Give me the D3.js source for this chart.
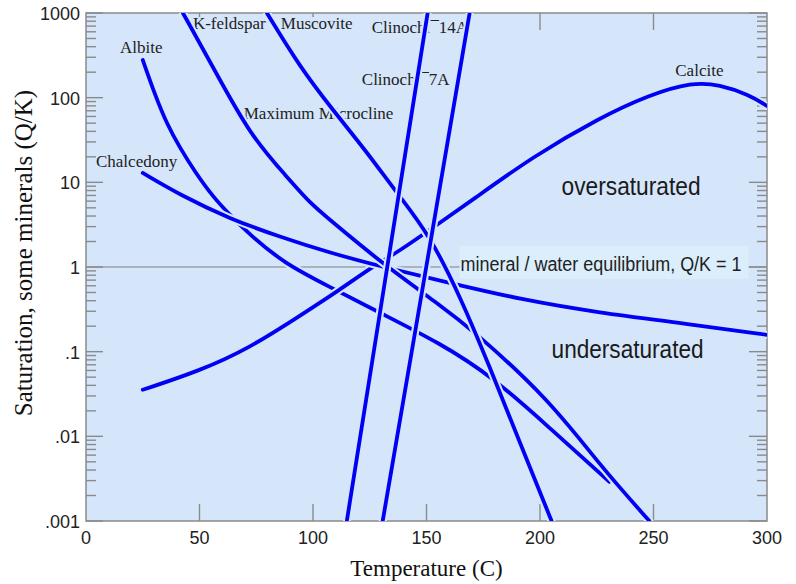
<!DOCTYPE html>
<html><head><meta charset="utf-8">
<script src="https://cdn.jsdelivr.net/npm/d3@7"></script>
<style>body{margin:0;background:#fff} svg{display:block}</style>
</head><body>
<svg id="chart" width="796" height="584"></svg>
<script>
// ---- data (temperature in C, saturation Q/K) ----
const xTicks = [0, 50, 100, 150, 200, 250, 300];
const yTicks = [1000, 100, 10, 1, 0.1, 0.01, 0.001];
const yTickLabels = ["1000", "100", "10", "1", ".1", ".01", ".001"];

const albite = [[25,279],[30.4,108],[35.6,49],[41.4,25.5],[48,13.3],[56.3,6.55],[63.4,4.13],[72.2,2.4],[87.6,1.09],[107.4,0.583],[129.4,0.288],[155.8,0.127],[179.1,0.0505],[204.2,0.0126],[230.6,0.0029]];
const calcite = [[25,0.0355],[50.2,0.0594],[72.2,0.111],[94.2,0.265],[111.8,0.537],[125.9,1.0],[138.2,1.55],[152.7,2.9],[170.3,6.21],[196.7,20],[226.2,57.7],[248.2,108],[267.1,152],[279,143],[292.2,108],[300,79.8]];
const chalcedony = [[25,12.9],[41.4,7.11],[63.4,3.7],[85.4,2.27],[107.4,1.47],[130.7,1.0],[160.2,0.65],[192.3,0.409],[226.2,0.288],[261.4,0.219],[300,0.158]];
const kfeldspar = [[42.7,1000],[55.9,231],[72.2,36.3],[88.5,11.6],[98.6,5.71],[107.4,3.61],[130.7,1.09],[155.8,0.357],[170.3,0.181],[204.2,0.027],[226.2,0.0046],[248.2,0.001]];
const muscovite = [[79.7,1000],[94.2,231],[108.7,71.6],[123.7,22.9],[136.9,7.5],[151.4,2.4],[165.5,0.409],[177.8,0.0664],[191,0.00863],[205.1,0.001]];
const clinochl7A = [[114.9,0.001],[132.7,1],[150.5,1000]];
const clinochl14A = [[130.7,0.001],[149.9,1],[169,1000]];

const seriesNames = ["Albite","Calcite","Chalcedony","K-feldspar","Muscovite","Clinochl¯7A","Clinochl¯14A"];
const seriesData = [albite, calcite, chalcedony, kfeldspar, muscovite, clinochl7A, clinochl14A];

// curve labels: [text, T, Q] (anchor = left/baseline)
const curveLabels = [
  ["Albite", 15.0, 337],
  ["K-feldspar", 47.1, 647],
  ["Muscovite", 85.8, 647],
  ["Clinochl¯14A", 125.9, 581],
  ["Clinochl¯7A", 121.5, 141],
  ["Maximum Microcline", 69.5, 56.1],
  ["Chalcedony", 4.4, 15.2],
  ["Calcite", 259.6, 180]
];
const regionLabels = [["oversaturated", 209.5, 7.11, 139], ["undersaturated", 205.1, 0.0847, 152]];
const equilLabel = ["mineral / water equilibrium, Q/K = 1", 165, 0.90, 281];

// ---- layout ----
const L = 86, R = 767, T = 13, B = 521;
const bg = "#d5e6fb";
const axisCol = "#8a8a8a";
const blue = "#0000f5";
const serif = "'Liberation Serif','Times New Roman',serif";
const sans = "'Liberation Sans',Arial,sans-serif";

const x = d3.scaleLinear().domain([0, 300]).range([L, R]);
const y = d3.scaleLog().domain([0.001, 1000]).range([B, T]);

const svg = d3.select("#chart");
svg.append("rect").attr("width", 796).attr("height", 584).attr("fill", "#fff");
svg.append("defs").append("clipPath").attr("id", "clip")
  .append("rect").attr("x", L).attr("y", T).attr("width", R - L).attr("height", B - T);
svg.append("rect").attr("x", L).attr("y", T).attr("width", R - L).attr("height", B - T).attr("fill", bg);

// equilibrium line Q/K = 1
svg.append("line").attr("x1", L).attr("x2", R).attr("y1", y(1)).attr("y2", y(1))
  .attr("stroke", "#9aa0a8").attr("stroke-width", 1.6);

// ticks
const tg = svg.append("g").attr("stroke", axisCol).attr("stroke-width", 1.4);
xTicks.slice(1, -1).forEach(v => {
  tg.append("line").attr("x1", x(v)).attr("x2", x(v)).attr("y1", B).attr("y2", B - 17);
  tg.append("line").attr("x1", x(v)).attr("x2", x(v)).attr("y1", T).attr("y2", T + 17);
});
yTicks.forEach(v => {
  tg.append("line").attr("x1", L).attr("x2", L + 17).attr("y1", y(v)).attr("y2", y(v));
  tg.append("line").attr("x1", R).attr("x2", R - 18).attr("y1", y(v)).attr("y2", y(v));
});
yTicks.slice(1).forEach(d => {
  for (let m = 2; m <= 9; m++) {
    const v = d * m;
    tg.append("line").attr("x1", L).attr("x2", L + 10).attr("y1", y(v)).attr("y2", y(v));
    tg.append("line").attr("x1", R).attr("x2", R - 10).attr("y1", y(v)).attr("y2", y(v));
  }
});
svg.append("rect").attr("x", L).attr("y", T).attr("width", R - L).attr("height", B - T)
  .attr("fill", "none").attr("stroke", axisCol).attr("stroke-width", 1.5);

// tick labels
svg.append("g").selectAll("text").data(xTicks).join("text")
  .attr("x", d => x(d)).attr("y", 544).attr("text-anchor", "middle")
  .attr("font-family", sans).attr("font-size", 18).attr("fill", "#222").text(d => d);
svg.append("g").selectAll("text").data(yTicks).join("text")
  .attr("x", 80).attr("y", d => y(d) + 7).attr("text-anchor", "end")
  .attr("font-family", sans).attr("font-size", 18).attr("fill", "#222")
  .text((d, i) => yTickLabels[i]);

// axis titles
svg.append("text").attr("x", (L + R) / 2).attr("y", 576).attr("text-anchor", "middle")
  .attr("font-family", serif).attr("font-size", 23).attr("fill", "#111").text("Temperature (C)");
svg.append("text").attr("transform", "translate(32,253) rotate(-90)").attr("text-anchor", "middle")
  .attr("font-family", serif).attr("font-size", 25).attr("fill", "#111")
  .text("Saturation, some minerals (Q/K)");

// curve labels with background boxes
const lg = svg.append("g");
curveLabels.forEach(([t, tx, q]) => {
  const g = lg.append("g");
  const r = g.append("rect").attr("fill", bg);
  const tt = g.append("text").attr("x", x(tx)).attr("y", y(q))
    .attr("font-family", serif).attr("font-size", 17).attr("fill", "#222").text(t);
  const bb = tt.node().getBBox();
  r.attr("x", bb.x).attr("width", bb.width).attr("y", y(q) - 12).attr("height", 15);
});

// equilibrium label with box
{
  const [t, tx, q, w] = equilLabel;
  svg.append("rect").attr("x", x(tx) - 1).attr("y", y(q) - 25).attr("width", w + 8).attr("height", 33)
    .attr("fill", "#dbeefb");
  svg.append("text").attr("x", x(tx)).attr("y", y(q)).attr("font-family", sans).attr("font-size", 20)
    .attr("textLength", w).attr("lengthAdjust", "spacingAndGlyphs").attr("fill", "#222").text(t);
}

// mineral curves
const line = d3.line().x(d => x(d[0])).y(d => y(d[1])).curve(d3.curveBasis);
const cg = svg.append("g").attr("clip-path", "url(#clip)");
seriesData.forEach((s, i) => {
  const g = cg.append("g").attr("class", "series").attr("data-name", seriesNames[i]);
  g.append("path").attr("d", line(s)).attr("fill", "none").attr("stroke", bg)
    .attr("stroke-width", 8).attr("stroke-linecap", "round");
  g.append("path").attr("d", line(s)).attr("fill", "none").attr("stroke", blue)
    .attr("stroke-width", 3.8).attr("stroke-linecap", "round");
});

// region labels
regionLabels.forEach(([t, tx, q, w]) => {
  svg.append("text").attr("x", x(tx)).attr("y", y(q)).attr("font-family", sans).attr("font-size", 25)
    .attr("textLength", w).attr("lengthAdjust", "spacingAndGlyphs").attr("fill", "#1a1a1a").text(t);
});
</script>
</body></html>
